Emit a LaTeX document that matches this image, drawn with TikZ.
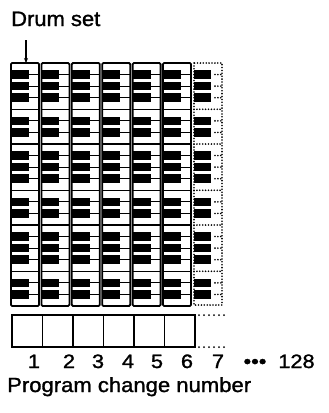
\documentclass[tikz,border=0pt]{standalone}
\usepackage{fontspec}
\setmainfont{Liberation Sans}
\newfontfamily\heavy[FakeBold=1.3]{Liberation Sans}
\usetikzlibrary{arrows.meta}
\begin{document}
\begin{tikzpicture}[x=1bp,y=-1bp,
  kbframe/.style={draw=black,line width=1.8bp,rounded corners=1.2bp},
  blackkey/.style={fill=black},
  keysep/.style={draw=black,line width=1.2bp},
  dotline/.style={draw=black,line width=1.8bp,line cap=round,dash pattern=on 0bp off 2.9bp},
  bigdots/.style={draw=black,line width=2bp,line cap=round,dash pattern=on 0bp off 5bp},
  boxline/.style={draw=black,line width=1.7bp},
  numlabel/.style={anchor=base,inner sep=0pt,font=\heavy\fontsize{19.5}{21}\selectfont},
  biglabel/.style={anchor=base west,inner sep=0pt}]
\useasboundingbox (0,0) rectangle (329,413);
\def\kh{11.5714}
% six keyboards
\foreach \i in {0,...,5}{
  \pgfmathsetmacro\xl{11+30.4*\i}
  \pgfmathsetmacro\xb{\xl+18}
  \pgfmathsetmacro\xr{\xl+28}
  \foreach \o in {0,1,2}{
    \pgfmathsetmacro\base{63+7*\kh*\o}
    \foreach \k in {1,2,3,5,6}{
      \pgfmathsetmacro\yc{\base+\k*\kh}
      \fill[blackkey] (\xl,\yc-4.3) rectangle (\xb,\yc+4.3);
      \draw[keysep] (\xb,\yc) -- (\xr,\yc);
    }
    \pgfmathsetmacro\yf{\base+4*\kh}
    \draw[keysep] (\xl,\yf) -- (\xr,\yf);
    \ifnum\o>0 \draw[keysep] (\xl,\base) -- (\xr,\base); \fi
  }
  \draw[kbframe] (\xl,63) rectangle (\xr,306);
}
\coordinate (c1top) at (26,63);
% dotted seventh keyboard
\foreach \o in {0,1,2}{
  \pgfmathsetmacro\base{63+7*\kh*\o}
  \foreach \k in {1,2,3,5,6}{
    \pgfmathsetmacro\yc{\base+\k*\kh}
    \fill[blackkey] (194,\yc-4.3) rectangle (211,\yc+4.3);
    \draw[dotline] (215,\yc) -- (222,\yc);
  }
  \pgfmathsetmacro\yf{\base+4*\kh}
  \draw[dotline] (194,\yf) -- (222,\yf);
  \ifnum\o>0 \draw[dotline] (194,\base) -- (222,\base); \fi
}
\draw[dotline] (194,63) rectangle (222,305);
% program boxes
\draw[boxline] (12,315) rectangle (195,347);
\foreach \x in {42.5,73,103.5,134,164.5}{
  \draw[boxline] (\x,315) -- (\x,347);
}
\draw[bigdots] (199,315) -- (227,315);
\draw[bigdots] (199,347) -- (227,347);
% labels
\node[biglabel,font=\heavy\fontsize{21}{24}\selectfont] (drum) at (11,26) {\scalebox{1.05}[1]{Drum set}};
\draw[line width=1.3bp,-{Stealth[length=5bp,width=4bp]}] (26,40) -- (c1top);
\node[numlabel] (n1) at (34,368) {\scalebox{1.12}[1]{1}};
\node[numlabel] (n2) at (69,368) {\scalebox{1.12}[1]{2}};
\node[numlabel] (n3) at (98,368) {\scalebox{1.12}[1]{3}};
\node[numlabel] (n4) at (128,368) {\scalebox{1.12}[1]{4}};
\node[numlabel] (n5) at (157,368) {\scalebox{1.12}[1]{5}};
\node[numlabel] (n6) at (187,368) {\scalebox{1.12}[1]{6}};
\node[numlabel] (n7) at (218,368) {\scalebox{1.12}[1]{7}};
\node[numlabel] (ndots) at (255,368) {\scalebox{1.12}[1]{•••}};
\node[numlabel] (n128) at (296.5,368) {\scalebox{1.12}[1]{128}};
\node[biglabel,font=\heavy\fontsize{20.5}{24}\selectfont] (pcn) at (7,392) {\scalebox{1.08}[1]{Program change number}};
\end{tikzpicture}
\end{document}
